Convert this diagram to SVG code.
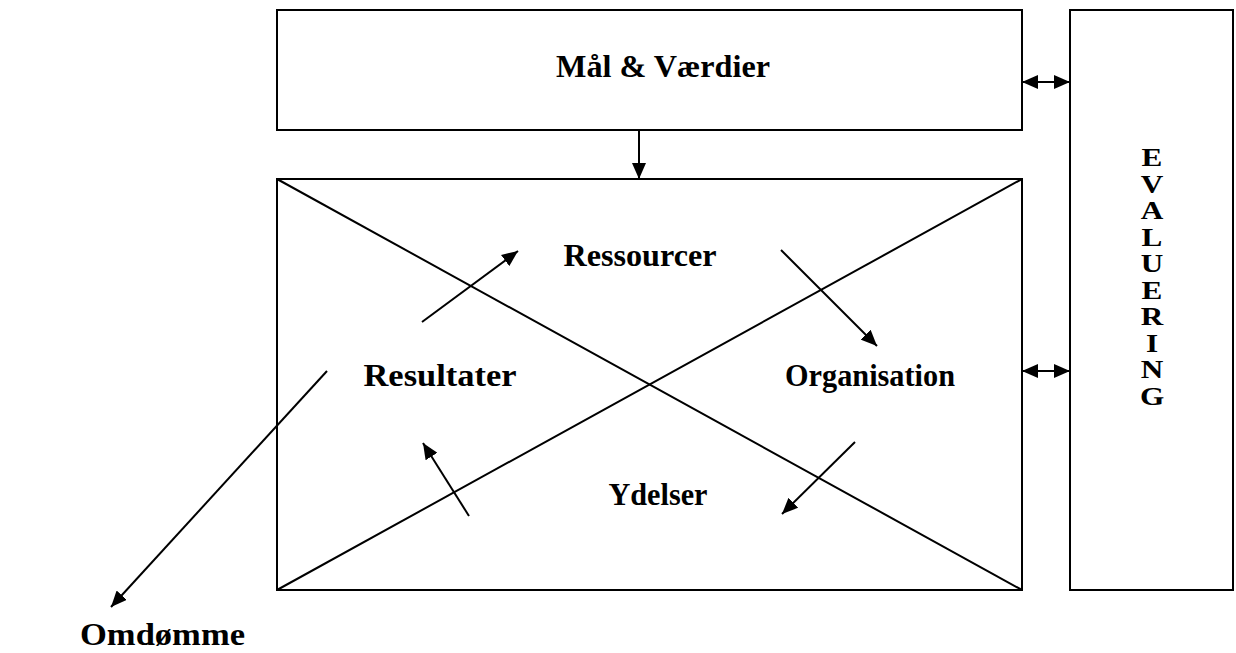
<svg xmlns="http://www.w3.org/2000/svg" width="1236" height="653" viewBox="0 0 1236 653">
<style>
.box{fill:#fff;stroke:#000;stroke-width:2}
.ln{stroke:#000;stroke-width:2;fill:none}
.ar{stroke:#000;stroke-width:2;fill:none;marker-end:url(#ah)}
.dar{stroke:#000;stroke-width:2;fill:none;marker-end:url(#ah);marker-start:url(#ah)}
text{font-family:"Liberation Serif","Times New Roman",serif;font-weight:bold;font-size:32px;fill:#000}
.ev{font-size:26px}
</style>
<defs>
<marker id="ah" viewBox="0 0 16 14" refX="16" refY="7" markerWidth="16" markerHeight="14" markerUnits="userSpaceOnUse" orient="auto-start-reverse">
<path d="M0,0 L16,7 L0,14 z" fill="#000"/>
</marker>
</defs>
<g id="maal">
<rect class="box" x="277" y="10" width="745" height="120"/>
<text x="663" y="77" text-anchor="middle" textLength="214" lengthAdjust="spacingAndGlyphs">Mål &amp; Værdier</text>
</g>
<g id="evaluering">
<rect class="box" x="1070" y="10" width="163" height="580"/>
<g transform="translate(1152 0) scale(1.2 1)" text-anchor="middle">
<text class="ev" x="0" y="166">E</text>
<text class="ev" x="0" y="193">V</text>
<text class="ev" x="0" y="219">A</text>
<text class="ev" x="0" y="246">L</text>
<text class="ev" x="0" y="272">U</text>
<text class="ev" x="0" y="299">E</text>
<text class="ev" x="0" y="325">R</text>
<text class="ev" x="0" y="352">I</text>
<text class="ev" x="0" y="378">N</text>
<text class="ev" x="0" y="405">G</text>
</g>
</g>
<g id="main">
<rect class="box" x="277" y="179" width="745" height="411"/>
<line class="ln" x1="277" y1="179" x2="1022" y2="590"/>
<line class="ln" x1="277" y1="590" x2="1022" y2="179"/>
</g>
<g id="ressourcer"><text x="640" y="266" text-anchor="middle" textLength="153" lengthAdjust="spacingAndGlyphs">Ressourcer</text></g>
<g id="resultater"><text x="440" y="386" text-anchor="middle" textLength="153" lengthAdjust="spacingAndGlyphs">Resultater</text></g>
<g id="organisation"><text x="870" y="386" text-anchor="middle" textLength="170" lengthAdjust="spacingAndGlyphs">Organisation</text></g>
<g id="ydelser"><text x="658" y="505" text-anchor="middle" textLength="99" lengthAdjust="spacingAndGlyphs">Ydelser</text></g>
<g id="omdoemme"><text x="80" y="645" textLength="165" lengthAdjust="spacingAndGlyphs">Omdømme</text></g>
<g id="connectors">
<line class="ar" x1="639" y1="130" x2="639" y2="179"/>
<line class="dar" x1="1022" y1="82" x2="1070" y2="82"/>
<line class="dar" x1="1022" y1="371" x2="1070" y2="371"/>
<line class="ar" x1="422" y1="322" x2="518" y2="251"/>
<line class="ar" x1="781" y1="250" x2="877" y2="346"/>
<line class="ar" x1="855" y1="442" x2="782" y2="514"/>
<line class="ar" x1="469" y1="516" x2="423" y2="443"/>
<line class="ar" x1="327" y1="371" x2="111" y2="607"/>
</g>
</svg>
